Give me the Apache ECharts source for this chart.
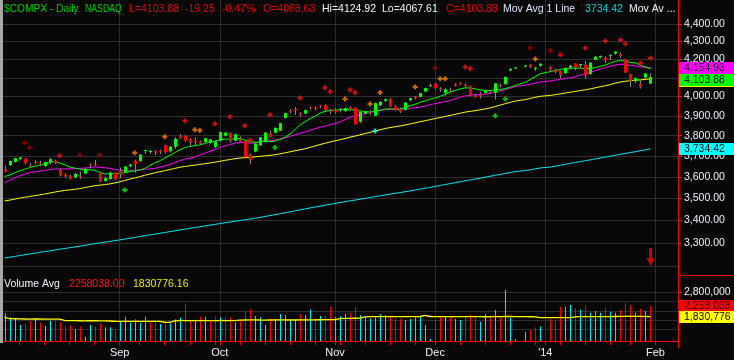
<!DOCTYPE html>
<html><head><meta charset="utf-8">
<script src="https://cdn.jsdelivr.net/npm/echarts@6/dist/echarts.min.js"></script>
<style>html,body{margin:0;padding:0;background:#080808;}#c{width:734px;height:360px;}</style>
</head><body><div id="c"></div>
<script>
// ---------------- DATA ----------------
const tradingDays = [
  ['2013-07', [31]],
  ['2013-08', [1,2,5,6,7,8,9,12,13,14,15,16,19,20,21,22,23,26,27,28,29,30]],
  ['2013-09', [3,4,5,6,9,10,11,12,13,16,17,18,19,20,23,24,25,26,27,30]],
  ['2013-10', [1,2,3,4,7,8,9,10,11,14,15,16,17,18,21,22,23,24,25,28,29,30,31]],
  ['2013-11', [1,4,5,6,7,8,11,12,13,14,15,18,19,20,21,22,25,26,27,29]],
  ['2013-12', [2,3,4,5,6,9,10,11,12,13,16,17,18,19,20,23,24,25,26,27,30,31]],
  ['2014-01', [1,2,3,6,7,8,9,10,13,14,15,16,17,21,22,23,24,27,28,29,30,31]],
  ['2014-02', [3,4,5,6,7]]
];
const monthLabels = {'2013-09':'Sep','2013-10':'Oct','2013-11':'Nov','2013-12':'Dec','2014-01':"'14",'2014-02':'Feb'};

const opens = [3634,3656,3672,3686,3687,3657,3672,3663,3652,3670,
 3677,3632,3610,3604,3598,3605,3616,3661,3660,3620,
 3581,3590,3619,3628,3622,3651,3676,3676,3725,3719,
 3722,3725,3752,3723,3745,3798,3800,3785,3772,3772,
 3768,3765,3744,3775,3800,3812,3775,3782,3772,3705,
 3722,3752,3770,3812,3815,3825,3890,3925,3935,3915,
 3912,3946,3944,3955,3955,3926,3930,3930,3925,3946,
 3940,3870,3912,3922,3901,3955,3978,3988,3948,3935,
 3931,3980,3999,3998,4027,4055,4068,4042,4020,4036,
 4064,4071,4061,4054,4002,4010,4020,4026,4020,4063,
 4066,4140,4153,null,4163,4173,4152,4165,null,4160,
 4140,4137,4125,4155,4178,4167,4170,4120,4198,4212,
 4207,4220,4233,4229,4200,4120,4082,4068,4102,4068.63];
const highs = [3653,3678,3691,3696,3690,3667,3680,3677,3672,3690,
 3682,3640,3618,3610,3618,3624,3641,3664,3680,3625,
 3600,3625,3621,3644,3652,3662,3682,3708,3731,3728,
 3728,3730,3756,3748,3792,3808,3805,3788,3790,3776,
 3790,3784,3774,3820,3818,3816,3810,3796,3776,3712,
 3762,3794,3818,3825,3840,3865,3917,3935,3945,3920,
 3932,3949,3948,3957,3960,3935,3938,3940,3944,3950,
 3944,3922,3924,3930,3968,3975,3990,3992,3955,3942,
 3972,3994,4004,4020,4047,4069,4072,4050,4044,4046,
 4070,4076,4070,4058,4013,4024,4036,4036,4072,4070,
 4106,4150,4160,null,4170,4176,4160,4177,null,4162,
 4150,4140,4157,4171,4180,4175,4192,4184,4219,4222,
 4217,4227,4247,4238,4204,4122,4103,4086,4126,4124.92];
const lows = [3622,3652,3668,3680,3658,3645,3660,3650,3648,3661,
 3662,3602,3598,3588,3593,3590,3613,3640,3650,3576,
 3577,3586,3585,3594,3618,3646,3620,3672,3710,3712,
 3705,3710,3712,3716,3735,3784,3770,3750,3750,3756,
 3765,3760,3738,3772,3796,3766,3772,3768,3694,3660,
 3718,3750,3765,3792,3812,3823,3886,3912,3906,3896,
 3908,3932,3930,3940,3924,3908,3912,3918,3920,3925,
 3855,3865,3908,3904,3898,3950,3972,3945,3926,3915,
 3928,3975,3986,3996,4024,4051,4040,4025,4005,4024,
 4053,4062,4052,4002,3995,3990,4016,4015,3985,4050,
 4063,4135,4148,null,4155,4153,4137,4160,null,4131,
 4125,4098,4121,4146,4140,4152,4095,4116,4195,4206,
 4179,4195,4226,4208,4126,4052,4072,4042,4095,4067.61];
const closes = [3626.37,3675.74,3689.59,3692.95,3665.77,3654.01,3669.12,3660.11,3669.95,3684.44,
 3669.27,3606.12,3602.78,3589.09,3613.59,3599.79,3638.71,3657.79,3657.57,3578.52,
 3593.35,3620.30,3589.87,3612.61,3649.04,3658.78,3660.01,3706.18,3729.02,3725.01,
 3715.97,3722.18,3717.85,3745.70,3783.64,3789.38,3774.73,3765.29,3768.25,3761.10,
 3787.43,3781.59,3771.48,3817.98,3815.02,3774.34,3807.75,3770.38,3694.83,3677.78,
 3760.75,3791.87,3815.28,3794.01,3839.43,3863.15,3914.28,3920.05,3929.57,3907.07,
 3928.96,3943.36,3940.13,3952.34,3930.62,3919.71,3922.04,3936.59,3939.86,3931.95,
 3857.33,3919.23,3919.79,3919.92,3965.58,3972.74,3985.97,3949.07,3931.55,3921.27,
 3969.15,3991.65,3994.57,4017.75,4044.75,4059.89,4045.26,4037.20,4038.00,4033.16,
 4062.52,4068.75,4060.49,4003.81,3998.40,4000.98,4029.52,4023.68,4070.06,4058.13,
 4104.74,4148.90,4155.42,null,4167.18,4156.59,4154.20,4176.59,null,4143.07,
 4131.91,4113.68,4153.18,4165.61,4156.19,4174.67,4113.30,4183.02,4214.88,4218.69,
 4197.58,4225.76,4243.00,4218.87,4128.17,4083.61,4097.96,4051.43,4123.13,4103.88];
const priorClose = 3616.47;

const ma10 = [3601.85,3608.29,3618.49,3627.75,3636.40,3643.84,3650.23,3654.93,3662.01,3668.81,
 3673.10,3666.13,3657.45,3647.07,3641.85,3636.43,3633.39,3633.15,3631.92,3621.32,
 3613.73,3615.15,3613.86,3616.21,3619.76,3625.65,3627.78,3632.62,3639.77,3654.42,
 3666.68,3676.87,3689.67,3702.97,3716.43,3729.49,3740.97,3746.88,3750.80,3754.41,
 3761.56,3767.50,3772.86,3780.09,3783.23,3781.72,3785.02,3785.53,3778.19,3769.86,
 3767.19,3768.22,3772.60,3770.20,3772.64,3781.52,3792.18,3807.14,3830.62,3853.55,
 3870.37,3885.52,3898.00,3913.83,3922.95,3928.61,3929.39,3931.04,3932.07,3934.56,
 3927.39,3924.98,3922.95,3919.70,3923.20,3928.50,3934.90,3936.14,3935.31,3934.25,
 3945.43,3952.67,3960.15,3969.93,3977.85,3986.56,3992.49,4001.30,4011.95,4023.14,
 4032.48,4040.19,4046.78,4045.38,4040.75,4034.86,4033.28,4031.93,4035.14,4037.63,
 4041.86,4049.87,4059.36,null,4075.70,4091.52,4106.84,4121.55,null,4133.49,
 4139.67,4145.23,4150.07,4151.74,4151.82,4152.57,4148.24,4151.12,4154.95,4162.51,
 4169.08,4180.29,4189.27,4194.60,4191.79,4182.69,4181.15,4168.00,4158.82,4147.34];
const ma20 = [3572.29,3583.89,3594.40,3604.81,3612.88,3619.55,3624.09,3627.09,3630.21,3634.51,
 3637.47,3637.21,3637.97,3637.41,3639.12,3640.13,3641.81,3644.04,3646.96,3645.06,
 3643.41,3640.64,3635.66,3631.64,3630.80,3631.04,3630.58,3632.89,3635.84,3637.87,
 3640.21,3646.01,3651.76,3659.59,3668.09,3677.57,3684.38,3689.75,3695.28,3704.41,
 3714.12,3722.18,3731.26,3741.53,3749.83,3755.61,3762.99,3766.20,3764.50,3762.13,
 3764.37,3767.86,3772.73,3775.14,3777.93,3781.62,3788.60,3796.34,3804.40,3811.70,
 3818.78,3826.87,3835.30,3842.02,3847.80,3855.07,3860.78,3869.09,3881.34,3894.05,
 3898.88,3905.25,3910.47,3916.77,3923.08,3928.56,3932.14,3933.59,3933.69,3934.40,
 3936.41,3938.82,3941.55,3944.82,3950.52,3957.53,3963.69,3968.72,3973.63,3978.69,
 3988.95,3996.43,4003.46,4007.66,4009.30,4010.71,4012.89,4016.62,4023.54,4030.39,
 4037.17,4045.03,4053.07,null,4060.54,4066.13,4070.85,4077.42,null,4082.71,
 4087.41,4091.43,4095.96,4100.81,4105.59,4114.14,4119.88,4128.98,4138.25,4148.00,
 4154.38,4162.76,4169.67,4173.17,4171.81,4167.63,4164.70,4159.56,4156.89,4154.93];
const ma50 = [3488.00,3491.47,3496.00,3500.67,3504.80,3508.10,3512.13,3515.51,3519.79,3524.17,
 3528.65,3532.74,3536.31,3538.71,3541.51,3544.77,3549.54,3553.79,3558.47,3561.00,
 3563.22,3566.76,3571.26,3576.37,3582.94,3589.16,3594.84,3600.93,3607.45,3613.26,
 3618.91,3624.48,3629.25,3634.47,3640.06,3645.43,3649.36,3652.66,3655.88,3659.13,
 3662.68,3666.09,3669.77,3674.12,3678.84,3682.73,3686.78,3689.92,3691.83,3693.06,
 3695.75,3698.07,3700.58,3702.60,3706.07,3710.25,3715.15,3720.35,3725.54,3729.99,
 3735.18,3741.92,3748.67,3755.94,3762.28,3768.68,3774.35,3779.93,3785.58,3792.65,
 3797.93,3803.91,3810.51,3816.66,3822.99,3829.27,3835.79,3840.65,3844.70,3848.63,
 3853.69,3859.08,3864.61,3870.05,3875.27,3880.68,3886.09,3891.53,3896.93,3902.37,
 3907.87,3913.61,3919.39,3923.11,3926.78,3931.31,3935.75,3940.82,3948.32,3955.93,
 3962.81,3969.95,3976.75,null,3984.21,3990.55,3996.37,4001.62,null,4006.08,
 4010.13,4014.26,4018.74,4023.19,4027.51,4031.96,4035.61,4040.88,4046.74,4052.38,
 4057.53,4063.41,4071.12,4077.11,4081.28,4084.55,4087.20,4088.77,4091.51,4094.61];
const ma200 = [3236.0,3239.3,3242.9,3246.4,3249.8,3253.1,3256.7,3260.1,3263.6,3266.9,
 3270.4,3273.6,3276.9,3280.1,3283.6,3286.9,3290.5,3294.1,3297.6,3300.7,
 3303.9,3307.4,3310.6,3314.0,3317.6,3321.2,3324.8,3328.5,3332.2,3335.8,
 3339.3,3342.9,3346.4,3350.1,3353.9,3357.7,3361.3,3364.8,3368.2,3371.6,
 3375.2,3378.7,3382.1,3385.8,3389.4,3392.8,3396.4,3399.8,3402.8,3405.6,
 3409.5,3413.5,3417.6,3421.5,3425.7,3430.0,3434.4,3438.8,3443.1,3447.3,
 3451.6,3455.9,3460.2,3464.5,3468.6,3472.7,3476.6,3480.5,3484.4,3488.4,
 3492.0,3495.9,3499.8,3503.6,3507.6,3511.6,3515.6,3519.3,3522.9,3526.5,
 3530.4,3534.4,3538.4,3542.5,3546.6,3550.8,3555.2,3559.5,3563.9,3568.2,
 3572.6,3577.0,3581.4,3585.6,3589.8,3594.1,3598.5,3602.9,3607.4,3611.8,
 3616.3,3620.7,3625.1,null,3629.4,3633.7,3638.0,3642.4,null,3646.7,
 3651.0,3655.3,3659.7,3664.1,3668.5,3672.9,3677.2,3681.6,3686.0,3690.4,
 3694.8,3699.2,3703.6,3708.0,3712.4,3716.7,3721.1,3725.5,3729.9,3734.42];

const volumes = [1964000,1805000,1765000,1500000,1540000,1659000,1779000,1593000,1460000,1672000,
 1672000,1606000,1460000,1487000,1341000,1434000,1036000,1500000,1434000,1566000,
 1407000,1407000,1328000,1633000,1832000,1593000,1725000,1593000,1832000,1593000,
 1699000,1540000,1633000,1566000,1725000,1792000,2362000,1699000,1699000,1832000,
 1832000,1699000,1832000,1805000,1805000,1805000,1593000,1699000,2030000,2136000,
 1858000,1805000,1500000,1725000,1725000,1938000,1898000,1725000,1725000,1938000,
 1898000,2123000,1765000,1858000,1858000,2229000,1805000,1858000,1938000,1991000,
 2203000,1898000,1805000,1765000,1805000,1938000,1898000,1832000,1739000,1739000,
 1699000,1739000,1792000,1832000,1500000,944000,1699000,1832000,1858000,1858000,
 1739000,1699000,1832000,1898000,1858000,1633000,1938000,1832000,2097000,1792000,
 2892000,1792000,944000,null,1235000,1301000,1381000,1434000,null,1739000,
 1672000,2229000,2229000,2295000,2163000,2097000,2269000,1991000,2057000,1991000,
 2189000,2030000,1991000,2097000,2388000,2295000,1991000,2136000,2057000,2258038];
const volAvg = [1805000,1752000,1748000,1741000,1739000,1737000,1740000,1738000,1735000,1736000,
 1734000,1731000,1680000,1676000,1672000,1670000,1668000,1672000,1670000,1665000,
 1662000,1660000,1650000,1648000,1646000,1645000,1646000,1644000,1643000,1646000,
 1645000,1642000,1610000,1606000,1668000,1672000,1676000,1675000,1673000,1674000,
 1676000,1672000,1671000,1673000,1675000,1674000,1672000,1695000,1699000,1702000,
 1700000,1698000,1697000,1699000,1700000,1701000,1700000,1698000,1699000,1703000,
 1705000,1702000,1706000,1708000,1710000,1712000,1715000,1752000,1760000,1765000,
 1768000,1770000,1826000,1830000,1832000,1831000,1833000,1835000,1834000,1832000,
 1830000,1832000,1834000,1838000,1885000,1838000,1834000,1832000,1833000,1832000,
 1830000,1831000,1833000,1835000,1832000,1830000,1829000,1831000,1834000,1836000,
 1840000,1838000,1832000,null,1830000,1828000,1826000,1795000,null,1792000,
 1790000,1791000,1794000,1796000,1826000,1830000,1832000,1833000,1831000,1834000,
 1836000,1835000,1838000,1840000,1845000,1848000,1846000,1842000,1838000,1830776];

const markerSlots = [4,5,11,15,19,24,26,32,36,38,39,42,45,48,49,53,54,59,64,65,68,69,70,73,74,75,82,86,87,88,92,93,98,100,105,106,109,111,116,120,123,124,127,129];
const markerPrices = [3765,3741,3701,3705,3705,3538,3716,3795,3875,3830,3826,3860,3896,3850,3778,3906,3741,3993,4047,4026,3987,4036,4021,3961,3823,4021,4051,4155,4095,4095,4159,4149,3901,3987,4264,4202,4249,4226,4264,4303,4309,4288,4179,4208];
const markerKinds = ['dkred','dkred','red','dkred','dkred','green','orange','orange','red','orange','orange','red','red','red','red','red','green','red','red','red','orange','red','red','orange','cyan','orange','orange','dkred','orange','orange','red','red','green','green','dkred','orange','dkred','red','red','red','red','red','red','red'];
const arrowSlots = [129];
const arrowPrices = [3240];

const priceGridValues = [3200,3300,3400,3500,3600,3700,3800,3900,4000,4100,4200,4300,4400];
const priceTickValues = [3300,3400,3500,3600,3700,3800,3900,4000,4100,4200,4300,4400];
const volGridValues = [1329000,1699000,2029000,2427000,2800000];
const volTickValues = [2800000];

// ---------------- BUILD ----------------
const FONT = '"Liberation Sans", Arial, sans-serif';
const categories = [];
const monthStarts = {};
tradingDays.forEach(([ym, days]) => {
  days.forEach((d, k) => {
    if (k === 0 && monthLabels[ym]) monthStarts[categories.length] = monthLabels[ym];
    categories.push(ym + '-' + String(d).padStart(2, '0'));
  });
});
const weekStarts = new Set();
for (let i = 1; i < categories.length; i++) {
  const a = new Date(categories[i-1] + 'T00:00:00Z'), b = new Date(categories[i] + 'T00:00:00Z');
  if (b.getUTCDay() <= a.getUTCDay() || (b - a) >= 7 * 86400000) weekStarts.add(i);
}
const fmtNum = (v, dec) => Number(v).toLocaleString('en-US', {minimumFractionDigits: dec, maximumFractionDigits: dec});

const candleData = [];
const volData = [];
let prev = priorClose;
closes.forEach((c, i) => {
  if (c == null) return;
  candleData.push([i, opens[i], c, lows[i], highs[i]]);
  volData.push([i, volumes[i], c >= prev ? 1 : 0]);
  prev = c;
});
const palette = {red:'#ff1010', dkred:'#a00000', orange:'#ff8000', green:'#00ee00', cyan:'#00ffff'};
const markerData = markerSlots.map((s, k) => ({value:[s, markerPrices[k]], itemStyle:{color: palette[markerKinds[k]]}}));
const arrowData = arrowSlots.map((s, k) => [s, arrowPrices[k]]);

const gridColor = '#2e2e2e';
const monthLineData = Object.keys(monthStarts).map(i => ({xAxis: categories[i]}));

const option = {
  backgroundColor: '#080808',
  animation: false,
  grid: [
    {left: 2, right: 56, top: 0, height: 275},
    {left: 2, right: 56, top: 275, height: 66}
  ],
  xAxis: [
    {type:'category', gridIndex:0, data:categories, show:false},
    {type:'category', gridIndex:1, data:categories,
      axisLine:{show:true, lineStyle:{color:'#ff0000', width:1}},
      axisTick:{show:true, alignWithLabel:true, length:4, lineStyle:{color:'#ff0000'},
        interval:(idx) => weekStarts.has(idx) || (idx in monthStarts)},
      axisLabel:{interval:(idx) => (idx in monthStarts), formatter:(v, idx) => monthStarts[idx] || '',
        color:'#eef2ff', fontSize:11, fontFamily:FONT, margin:6},
      splitLine:{show:false}}
  ],
  yAxis: [
    {type:'log', logBase:10, gridIndex:0, position:'right', min:3164.8, max:4540.8,
      axisLine:{show:true, lineStyle:{color:'#ff0000'}},
      axisTick:{show:true, customValues:priceTickValues, length:4, inside:false, lineStyle:{color:'#ff0000'}},
      axisLabel:{show:true, customValues:priceTickValues, formatter:(v) => fmtNum(Math.round(v), 2),
        color:'#eef2ff', fontSize:10.5, fontFamily:FONT, margin:6},
      splitLine:{show:false}, minorTick:{show:false}, minorSplitLine:{show:false}},
    {type:'value', gridIndex:1, position:'right', min:864000, max:3488000,
      axisLine:{show:true, lineStyle:{color:'#ff0000'}},
      axisTick:{show:true, customValues:volTickValues, length:4, lineStyle:{color:'#ff0000'}},
      axisLabel:{show:true, customValues:volTickValues, formatter:(v) => fmtNum(Math.round(v), 0),
        color:'#eef2ff', fontSize:10.5, fontFamily:FONT, margin:6},
      splitLine:{show:false}}
  ],
  series: [
    {name:'MA200', type:'line', xAxisIndex:0, yAxisIndex:0, data:ma200, showSymbol:false, symbol:'none',
      connectNulls:true, z:2, lineStyle:{color:'#00e8f0', width:1},
      markLine:{silent:true, symbol:['none','none'], animation:false, label:{show:false}, z:1,
        lineStyle:{color:gridColor, width:1, type:'solid'},
        data: priceGridValues.map(v => ({yAxis:v})).concat(monthLineData)}},
    {name:'MA50', type:'line', xAxisIndex:0, yAxisIndex:0, data:ma50, showSymbol:false, symbol:'none',
      connectNulls:true, z:3, lineStyle:{color:'#ffff00', width:1}},
    {name:'MA20', type:'line', xAxisIndex:0, yAxisIndex:0, data:ma20, showSymbol:false, symbol:'none',
      connectNulls:true, z:3, lineStyle:{color:'#ff00ff', width:1}},
    {name:'MA10', type:'line', xAxisIndex:0, yAxisIndex:0, data:ma10, showSymbol:false, symbol:'none',
      connectNulls:true, z:3, lineStyle:{color:'#00ff00', width:1}},
    {name:'Price', type:'custom', xAxisIndex:0, yAxisIndex:0, data:candleData, z:5,
      encode:{x:0, y:[1,2,3,4]},
      renderItem:(params, api) => {
        const i = api.value(0), o = api.value(1), c = api.value(2), l = api.value(3), h = api.value(4);
        const pO = api.coord([i, o]), pC = api.coord([i, c]), pL = api.coord([i, l]), pH = api.coord([i, h]);
        const xc = Math.round(pO[0]);
        const top = Math.min(pO[1], pC[1]), bot = Math.max(pO[1], pC[1]);
        return {type:'group', children:[
          {type:'line', shape:{x1:xc+0.5, y1:pH[1], x2:xc+0.5, y2:pL[1]}, style:{stroke:'#8a8a8a', lineWidth:1}},
          {type:'rect', shape:{x:xc-1, y:top, width:3, height:Math.max(1, bot-top)},
            style:{fill: c >= o ? '#00ff00' : '#ff0000'}}
        ]};
      }},
    {name:'Signals', type:'scatter', xAxisIndex:0, yAxisIndex:0, data:markerData, z:6,
      symbol:'path://M1.5,0H3.5V1.5H5V3.5H3.5V5H1.5V3.5H0V1.5H1.5Z', symbolSize:5},
    {name:'Arrow', type:'scatter', xAxisIndex:0, yAxisIndex:0, data:arrowData, z:6,
      symbol:'path://M2.5,0H5.5V10H8L4,18L0,10H2.5Z', symbolSize:[8,18], itemStyle:{color:'#ff0000'}},
    {name:'Volume', type:'custom', xAxisIndex:1, yAxisIndex:1, data:volData, z:4,
      encode:{x:0, y:1},
      renderItem:(params, api) => {
        const i = api.value(0), v = api.value(1), up = api.value(2);
        const p = api.coord([i, v]);
        const bottom = params.coordSys.y + params.coordSys.height;
        const x = Math.round(p[0]) + 0.5;
        return {type:'line', shape:{x1:x, y1:p[1], x2:x, y2:bottom},
          style:{stroke: up ? '#00e8f0' : '#ff0000', lineWidth:1}};
      }},
    {name:'VolAvg', type:'line', xAxisIndex:1, yAxisIndex:1, data:volAvg, showSymbol:false, symbol:'none',
      connectNulls:true, z:5, lineStyle:{color:'#ffff00', width:1.3},
      markLine:{silent:true, symbol:['none','none'], animation:false, label:{show:false}, z:1,
        lineStyle:{color:gridColor, width:1, type:'solid'},
        data: volGridValues.map(v => ({yAxis:v})).concat(monthLineData)}}
  ]
};

const chart = echarts.init(document.getElementById('c'), null, {renderer:'canvas'});
chart.setOption(option);

// ---------------- LABEL BOXES & HEADERS ----------------
const py = v => chart.convertToPixel({yAxisIndex:0}, v);
const vy = v => chart.convertToPixel({yAxisIndex:1}, v);
const last = closes.length - 1;
const txt = (x, y, s, fill, sx) => ({type:'text', x:x, y:y, z:50, scaleX: sx || 1,
  style:{text:s, fill:fill, font:'10.5px ' + FONT, verticalAlign:'middle', align:'left'}});
const box = (y, bg, s, tc, z) => [
  {type:'rect', z:z, shape:{x:679, y:Math.round(y - 6), width:55, height:12}, style:{fill:bg}},
  {type:'text', z:z + 1, x:684, y:Math.round(y) + 0.5, style:{text:s, fill:tc, font:'10.5px ' + FONT, verticalAlign:'middle'}}
];
const yMag = py(ma20[last]);
let yGrn = py(closes[last]);
if (yGrn - yMag < 12) yGrn = yMag + 12;
const yYel = yGrn + 1.5;
const yCyn = py(ma200[last]);
const yRed = vy(volumes[last]);
let yVA = vy(volAvg[last]);
if (yVA - yRed < 11) yVA = yRed + 11;

const elements = [
  {type:'rect', z:60, shape:{x:0, y:0, width:3, height:343}, style:{fill:'#a8a8a8'}},
  {type:'line', z:60, shape:{x1:678.5, y1:340, x2:678.5, y2:348}, style:{stroke:'#ff0000', lineWidth:1}},
  {type:'line', z:60, shape:{x1:678, y1:275.5, x2:734, y2:275.5}, style:{stroke:'#ff0000', lineWidth:1}},
  txt(4, 9, '$COMPX - Daily', '#00cc00', 0.97),
  txt(85, 9, 'NASDAQ', '#00cc00', 0.83),
  txt(129, 9, 'L=4103.88', '#e80000'),
  txt(185, 9, '-19.25', '#e80000'),
  txt(222, 9, '-0.47%', '#e80000'),
  txt(263, 9, 'O=4068.63', '#e80000'),
  txt(322, 9, 'Hi=4124.92', '#f2f4ff'),
  txt(382, 9, 'Lo=4067.61', '#f2f4ff'),
  txt(446, 9, 'C=4103.88', '#e80000'),
  txt(503, 9, 'Mov Avg 1 Line', '#dde6ff'),
  txt(585, 9, '3734.42', '#00d0d8'),
  txt(629, 9, 'Mov Av ...', '#eef2ff'),
  txt(4, 284, 'Volume Avg', '#f2f4ff'),
  txt(69, 284, '2258038.00', '#ff1010'),
  txt(133, 284, '1830776.16', '#e8e800')
].concat(
  box(yYel, '#ffff00', fmtNum(ma50[last], 2), '#000', 90),
  box(yGrn, '#00ff00', fmtNum(closes[last], 2), '#000', 100),
  box(yMag, '#ff00ff', fmtNum(ma20[last], 2), '#000', 110),
  box(yCyn, '#00ffff', fmtNum(ma200[last], 2), '#000', 100),
  box(yRed, '#ff0000', fmtNum(volumes[last], 0), '#200000', 100),
  box(yVA, '#ffff00', fmtNum(volAvg[last], 0), '#000', 110)
);
chart.setOption({graphic:{elements: elements}});
</script>
</body></html>
